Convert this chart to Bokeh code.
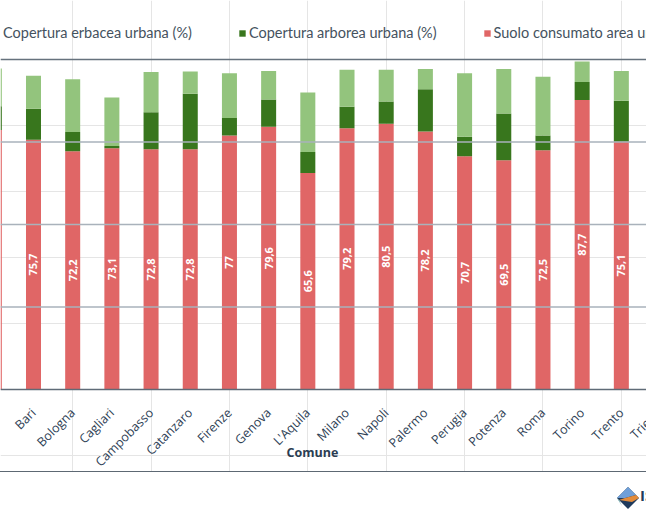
import math

from bokeh.core.properties import value
from bokeh.embed import file_html
from bokeh.layouts import column
from bokeh.models import (ColumnDataSource, Div, FixedTicker, Label, Legend,
                          LegendItem, LinearAxis, Range1d, Span)
from bokeh.plotting import figure
from bokeh.resources import INLINE

# Capoluoghi di regione (ordine alfabetico)
comuni = ["Aosta", "Bari", "Bologna", "Cagliari", "Campobasso", "Catanzaro",
          "Firenze", "Genova", "L'Aquila", "Milano", "Napoli", "Palermo",
          "Perugia", "Potenza", "Roma", "Torino", "Trento", "Trieste"]

# Percentuali dell'area urbana
suolo_consumato = [78.6, 75.7, 72.2, 73.1, 72.8, 72.8, 77.0, 79.6, 65.6, 79.2,
                   80.5, 78.2, 70.7, 69.5, 72.5, 87.7, 75.1]
copertura_arborea = [7.2, 9.4, 5.8, 0.7, 11.2, 16.8, 5.3, 8.3, 6.4, 6.5,
                     6.8, 12.8, 5.9, 14.1, 4.5, 5.5, 12.4]
copertura_erbacea = [11.5, 10.0, 16.0, 14.7, 12.2, 6.8, 13.5, 8.6, 18.0, 11.2,
                     9.6, 6.1, 19.2, 13.5, 17.8, 6.2, 9.0]

y_gridlines = [25, 50, 75]
y_top = 100

ROSSO = "#e06666"
VERDE_SCURO = "#38761d"
VERDE_CHIARO = "#93c47d"
TESTO_ASSE = "#2f4256"


def fmt(v):
    s = f"{v:.1f}".replace(".", ",")
    return s[:-2] if s.endswith(",0") else s


n = len(suolo_consumato)
src = ColumnDataSource(dict(
    x=list(range(n)),
    suolo=suolo_consumato,
    arborea=copertura_arborea,
    erbacea=copertura_erbacea,
))
# value labels for the bars that fall inside the view
lab_src = ColumnDataSource(dict(
    x=list(range(1, n)),
    mid=[v / 2 for v in suolo_consumato[1:]],
    lab=[fmt(v) for v in suolo_consumato[1:]],
))

# the frame fills the whole canvas; the category axis is pinned at y = 0
p = figure(width=646, height=471, output_backend="svg", toolbar_location=None,
           x_axis_location=None, y_axis_location=None,
           x_range=Range1d(0.158, 16.642), y_range=Range1d(-24.85, 117.88),
           min_border=0, outline_line_color=None)
p.background_fill_color = "white"
p.border_fill_color = "white"

# horizontal reference lines
for g in y_gridlines:
    p.add_layout(Span(location=g, dimension="width", line_color="#a9b2bb",
                      line_width=1.5))
p.add_layout(Span(location=y_top, dimension="width", line_color="#66727d",
                  line_width=1.5))

bars = p.vbar_stack(["suolo", "arborea", "erbacea"], x="x", width=0.383,
                    color=[ROSSO, VERDE_SCURO, VERDE_CHIARO], source=src,
                    line_color=None)

p.text(x="x", y="mid", text="lab", source=lab_src, angle=math.pi / 2,
       text_align="center", text_baseline="middle", text_color="white",
       text_font=value("Open Sans"), text_font_style="bold",
       text_font_size="11px")

xaxis = LinearAxis(ticker=FixedTicker(ticks=list(range(1, len(comuni)))),
                   major_label_overrides={i: c for i, c in enumerate(comuni)},
                   fixed_location=0)
xaxis.axis_line_color = "#5f6b77"
xaxis.axis_line_width = 1.5
xaxis.major_tick_line_color = None
xaxis.minor_tick_line_color = None
xaxis.major_label_orientation = math.pi / 4
xaxis.major_label_standoff = 15
xaxis.major_label_text_font = "Open Sans"
xaxis.major_label_text_font_size = "12.5px"
xaxis.major_label_text_color = TESTO_ASSE
p.add_layout(xaxis, "below")

# the last category's tick lies just beyond the right edge
p.add_layout(Label(x=len(comuni) - 1, y=-5.76, text=comuni[-1],
                   angle=math.pi / 4, text_align="right",
                   text_baseline="middle", text_font="Open Sans",
                   text_font_size="12.5px", text_color=TESTO_ASSE))

p.add_layout(Label(x=312, x_units="screen", y=-19.1, text="Comune",
                   text_align="center", text_baseline="middle",
                   text_font="Open Sans", text_font_style="bold",
                   text_font_size="12.5px", text_color="#2b3d52"))

legend = Legend(items=[
    LegendItem(label="Copertura erbacea urbana (%)", renderers=[bars[2]]),
    LegendItem(label="Copertura arborea urbana (%)", renderers=[bars[1]]),
    LegendItem(label="Suolo consumato area urbana (%)", renderers=[bars[0]]),
], orientation="horizontal", location=(-8, 430), glyph_width=8,
    glyph_height=8, label_standoff=3, spacing=46, padding=0, margin=0,
    border_line_color=None, background_fill_alpha=0,
    label_text_font="Lato", label_text_font_size="14.5px",
    label_text_color="#45525e")
p.add_layout(legend)

logo = """
<div style="position:relative;width:646px;height:47px;overflow:hidden;">
  <svg style="position:absolute;left:616px;top:15px" width="24" height="23" viewBox="0 0 24 23">
    <polygon points="12,0 23,11 12,22 1,11" fill="#1f3a5c"/>
    <polygon points="12,0 20,8 9,11 1,11" fill="#6f9fd8"/>
    <polygon points="9,11 20,8 23,11 16,15 3,13" fill="#e38b3a"/>
    <polygon points="1,11 3,13 6,19" fill="#3f8f95"/>
  </svg>
  <span style="position:absolute;left:640px;top:13px;font-family:'Open Sans';
    font-weight:bold;font-size:15px;color:#1f3a5c;">ISPRA</span>
</div>
"""
footer = Div(text=logo, width=646, height=48,
             styles={"border-top": "1.5px solid #5d6873", "margin": "0"})

layout = column(p, footer, spacing=0)

open("out.html", "w").write(file_html(layout, INLINE))
